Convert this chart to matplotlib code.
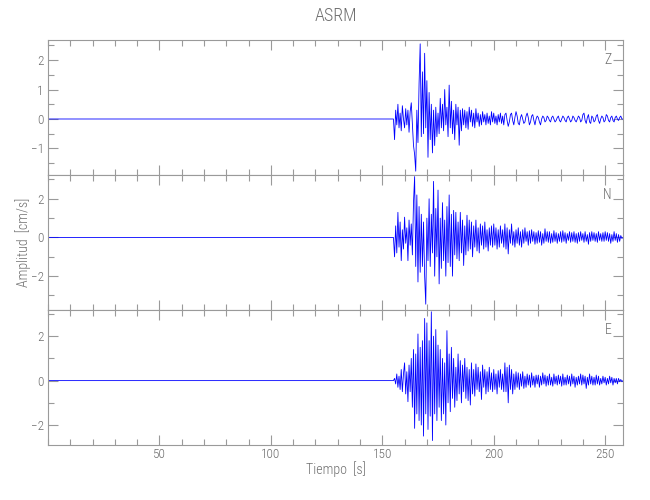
import numpy as np
import matplotlib
matplotlib.use("Agg")
import matplotlib.pyplot as plt
from matplotlib.ticker import MultipleLocator, FixedLocator

# ---- data (cm/s), one value every 0.5 s after the onset ----
title = "ASRM"
channels = ["Z", "N", "E"]
pre_event_start = 0.0   # s, trace is flat until the onset
onset = 155.0           # s
dt = 0.5                # s

z_amp = [
    0.0, -0.7, 0.3, -0.2, 0.5, -0.3, 0.2, -0.4, 0.45, 0.0,
    -0.3, 0.35, -0.2, 0.3, -0.45, 0.25, 0.55, -0.2, -0.9, -1.2,
    -1.77, 0.3, -0.8, 1.2, 2.55, -0.6, 1.6, -0.5, 2.23, -0.3,
    1.3, -1.3, 0.9, -0.7, 0.5, -1.15, 0.3, -0.9, 0.4, -0.6,
    0.2, -0.5, 0.7, -0.3, 0.5, -0.4, 1.0, -0.2, 0.4, -0.6,
    1.15, -0.3, 0.6, -0.5, 0.3, -0.7, 0.5, -0.2, 0.4, -0.89,
    0.3, -0.4, 0.35, -0.2, 0.3, -0.3, 0.25, -0.35, 0.4, -0.1,
    0.3, -0.25, 0.2, -0.3, 0.35, -0.1, 0.2, -0.25, 0.15, -0.2,
    0.25, -0.1, 0.15, -0.2, 0.2, -0.15, 0.1, -0.2, 0.25, -0.1,
    0.2, -0.15, 0.1, -0.2, 0.15, -0.1, 0.2, -0.15, 0.1, -0.2,
    0.15, 0.2, -0.05, -0.25, -0.1, 0.15, 0.2, -0.05, -0.2, 0.05,
    0.25, 0.1, -0.15, -0.2, 0.05, 0.15, 0.0, -0.15, -0.1, 0.1,
    0.2, 0.05, -0.2, -0.1, 0.1, 0.15, -0.05, -0.2, 0.0, 0.1,
    0.05, -0.1, -0.2, 0.0, 0.1, 0.05, -0.1, -0.05, 0.1, 0.05,
    -0.05, -0.1, 0.05, 0.1, 0.0, -0.1, -0.05, 0.05, 0.1, -0.05,
    -0.1, 0.0, 0.1, 0.05, -0.05, -0.1, 0.05, 0.1, 0.0, -0.1,
    -0.05, 0.1, 0.05, -0.05, -0.1, 0.0, 0.1, 0.05, -0.1, -0.05,
    0.15, 0.2, -0.05, -0.15, 0.05, 0.15, -0.1, -0.15, 0.1, 0.05,
    -0.1, -0.05, 0.1, 0.15, -0.05, -0.15, 0.0, 0.1, 0.05, -0.1,
    -0.05, 0.15, 0.1, -0.05, -0.1, 0.05, 0.1, -0.05, -0.1, 0.05,
    0.1, 0.0, -0.05, 0.05, 0.1, 0.0, 0.0,
]

n_amp = [
    0.0, -1.0, 0.6, -0.8, 1.3, -0.5, 0.8, -1.2, 0.4, -0.6,
    1.05, -0.3, 0.5, -1.2, 0.9, -0.4, 0.7, -0.9, 1.8, 3.15,
    -1.5, 2.2, -2.3, 1.6, -1.8, 1.2, -1.5, 0.8, -2.0, -3.45,
    1.0, -1.2, 2.0, -1.5, 1.2, -0.8, 2.9, -2.0, 1.5, -1.0,
    2.45, -2.4, 1.0, -1.6, 1.8, -1.2, 0.9, -2.0, 1.6, -1.3,
    2.2, -1.5, 1.2, -2.0, 1.4, -0.9, 1.3, -1.1, 0.8, -1.2,
    1.3, -0.8, 0.9, -1.45, 0.6, -0.9, 1.15, -0.7, 0.9, -0.6,
    0.8, -1.0, 0.6, -0.5, 0.9, -0.7, 0.5, -0.8, 0.7, -0.4,
    0.6, -0.6, 0.8, -0.5, 0.4, -0.7, 0.5, -0.4, 0.6, -0.5,
    0.7, -0.4, 0.5, -0.6, 0.4, -0.5, 0.6, -0.3, 0.4, -0.5,
    0.7, -0.6, 0.5, -0.85, 0.4, -0.3, 0.7, -0.4, 0.3, -0.5,
    0.4, -0.3, 0.5, -0.4, 0.3, -0.5, 0.4, -0.3, 0.5, -0.2,
    0.3, -0.4, 0.35, -0.3, 0.4, -0.2, 0.3, -0.35, 0.25, -0.3,
    0.35, -0.25, 0.3, -0.4, 0.2, -0.3, 0.45, -0.2, 0.3, -0.25,
    0.3, -0.3, 0.2, -0.25, 0.35, -0.2, 0.25, -0.3, 0.2, -0.2,
    0.3, -0.25, 0.35, -0.2, 0.25, -0.3, 0.2, -0.15, 0.3, -0.25,
    0.25, -0.2, 0.3, -0.25, 0.2, -0.3, 0.25, -0.2, 0.3, -0.15,
    0.2, -0.25, 0.3, -0.2, 0.15, -0.35, 0.25, -0.2, 0.3, -0.15,
    0.25, -0.2, 0.2, -0.25, 0.3, -0.15, 0.2, -0.2, 0.25, -0.2,
    0.3, -0.15, 0.25, -0.2, 0.2, -0.3, 0.15, -0.2, 0.3, -0.15,
    0.2, -0.25, 0.15, -0.2, 0.1, -0.05, 0.0,
]

e_amp = [
    0.0, 0.1, -0.15, 0.3, -0.3, 0.2, -0.4, 0.5, -0.5, 0.3,
    0.8, -0.6, 0.4, -0.95, 0.7, -0.5, 1.0, -1.2, 1.4, -2.15,
    1.2, -1.5, 2.1, -1.8, 1.5, -2.0, 1.8, -2.5, 2.8, -1.5,
    2.6, -2.2, 1.8, -1.6, 3.1, -2.7, 2.0, -1.5, 2.3, -1.8,
    1.6, -1.2, 1.4, -1.8, 1.0, -1.5, 0.8, -2.0, 2.25, -1.0,
    1.2, -1.4, 1.5, -0.8, 1.0, -1.2, 0.6, -0.9, 1.2, -0.6,
    0.9, -1.0, 0.7, -0.5, 1.0, -0.8, 0.6, -0.9, 0.5, -1.1,
    0.8, -0.6, 0.5, -0.7, 0.75, -0.4, 0.6, -0.5, 0.4, -0.85,
    0.7, -0.3, 0.5, -0.6, 0.4, -0.5, 0.6, -0.4, 0.35, -0.5,
    0.5, -0.4, 0.3, -0.6, 0.45, -0.3, 0.5, -0.4, 0.3, -0.5,
    0.8, -0.5, 0.6, -1.0, 0.7, -0.4, 0.5, -0.6, 0.3, -0.4,
    0.4, -0.3, 0.35, -0.4, 0.3, -0.25, 0.4, -0.35, 0.2, -0.3,
    0.3, -0.2, 0.25, -0.3, 0.35, -0.2, 0.2, -0.3, 0.25, -0.15,
    0.25, -0.3, 0.2, -0.2, 0.35, -0.15, 0.25, -0.25, 0.2, -0.2,
    0.3, -0.2, 0.15, -0.25, 0.3, -0.15, 0.2, -0.2, 0.25, -0.15,
    0.2, -0.25, 0.3, -0.2, 0.15, -0.2, 0.25, -0.15, 0.2, -0.25,
    0.3, -0.15, 0.2, -0.3, 0.15, -0.2, 0.2, -0.15, 0.3, -0.2,
    0.25, -0.15, 0.2, -0.35, 0.15, -0.2, 0.3, -0.15, 0.2, -0.2,
    0.15, -0.2, 0.25, -0.15, 0.2, -0.2, 0.1, -0.15, 0.2, -0.1,
    0.15, -0.2, 0.1, -0.15, 0.2, -0.1, 0.15, -0.2, 0.1, -0.1,
    0.1, -0.15, 0.1, -0.05, 0.05, -0.05, 0.0,
]

traces = [z_amp, n_amp, e_amp]
y_limits = [(-1.9, 2.68), (-3.75, 3.23), (-2.9, 3.18)]
y_major = [1, 2, 2]
y_minor = [0.5, 1, 1]
x_limits = (0, 258)
x_labels = [50, 100, 150, 200, 250]

# ---- styling ----
plt.rcParams['font.family'] = ['Roboto Condensed', 'Liberation Sans Narrow',
                               'Roboto', 'DejaVu Sans']
plt.rcParams['font.weight'] = 'light'
grey = '#6e6e6e'
axis_grey = '#9a9a9a'
trace_color = '#0000ff'

fig = plt.figure(figsize=(6.5, 5.0), dpi=100)
left, width = 48 / 650, 575 / 650
panel_h = 135 / 500
bottom0 = 1 - 445 / 500

axes = []
for i, (name, amp) in enumerate(zip(channels, traces)):
    ax = fig.add_axes([left, bottom0 + (2 - i) * panel_h, width, panel_h])
    axes.append(ax)

    t = np.concatenate([[pre_event_start], onset + dt * np.arange(len(amp))])
    y = np.concatenate([[0.0], amp])
    ax.plot(t, y, color=trace_color, lw=0.6)

    ax.set_xlim(*x_limits)
    ax.set_ylim(*y_limits[i])
    ax.xaxis.set_major_locator(FixedLocator(x_labels))
    ax.xaxis.set_minor_locator(MultipleLocator(10))
    ax.yaxis.set_major_locator(MultipleLocator(y_major[i]))
    ax.yaxis.set_minor_locator(MultipleLocator(y_minor[i]))
    ax.tick_params(which='both', direction='in', top=True, right=True,
                   color=axis_grey, labelcolor=grey, labelsize=9.5, width=0.8)
    ax.tick_params(which='major', length=7)
    ax.tick_params(which='minor', length=4)
    ax.tick_params(axis='y', pad=3)
    ax.tick_params(axis='x', pad=2)
    for s in ax.spines.values():
        s.set_color(axis_grey)
        s.set_linewidth(0.8)
    if i < 2:
        ax.tick_params(axis='x', labelbottom=False)
    ax.text(0.98, 0.85, name, transform=ax.transAxes, ha='right', va='center',
            color=grey, fontsize=10, fontweight='light')

axes[0].set_title(title, color=grey, fontsize=13, pad=14, fontweight='light')
axes[2].set_xlabel('Tiempo  [s]', color=grey, fontsize=10, labelpad=0,
                   fontweight='light')
fig.text(23 / 650, 1 - 242 / 500, 'Amplitud  [cm/s]', rotation=90,
         ha='center', va='center', color=grey, fontsize=10, fontweight='light')

fig.savefig('out.png', dpi=100)
